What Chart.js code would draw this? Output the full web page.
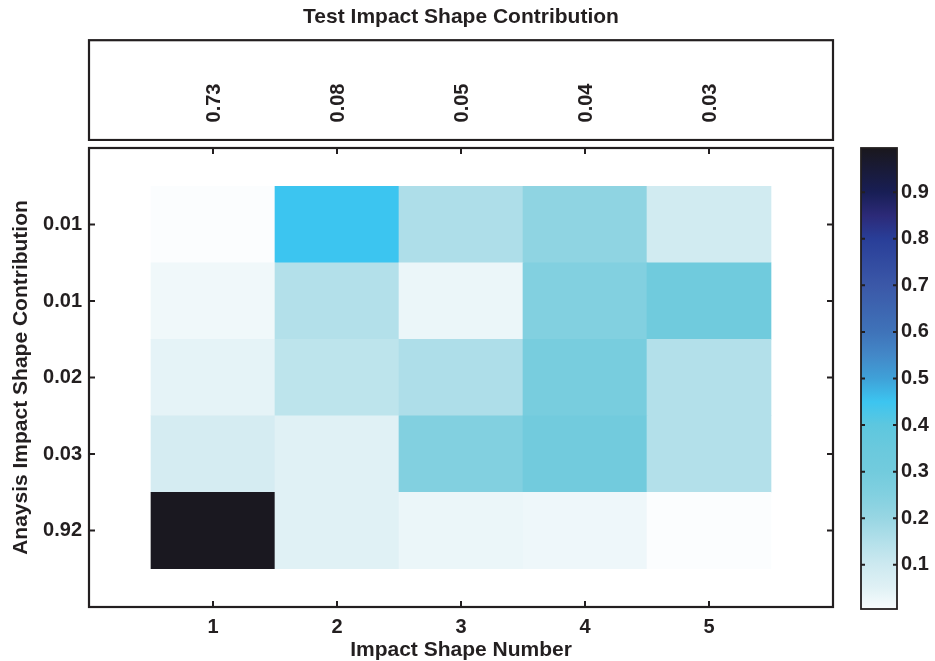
<!DOCTYPE html>
<html>
<head>
<meta charset="utf-8">
<script src="https://cdn.jsdelivr.net/npm/chart.js@4.4.1/dist/chart.umd.min.js"></script>
<style>
    body { margin: 0; background: #fff; }
    #wrap { position: relative; width: 935px; height: 661px; }
    canvas { position: absolute; }
</style>
</head>
<body>
<div id="wrap">
    <canvas id="topChart" width="935" height="141" style="left:0;top:0;width:935px;height:141px"></canvas>
    <canvas id="mainChart" width="935" height="661" style="left:0;top:0;width:935px;height:661px"></canvas>
    <canvas id="barChart" width="84" height="481" style="left:851px;top:138px;width:84px;height:481px"></canvas>
</div>
<script>

// data
const shapeNumbers = [1, 2, 3, 4, 5];
const analysisLabels = ["0.01", "0.01", "0.02", "0.03", "0.92"];
const testLabels = ["0.73", "0.08", "0.05", "0.04", "0.03"];

const row1 = [0.00, 0.45, 0.16, 0.22, 0.09];
const row2 = [0.02, 0.15, 0.03, 0.25, 0.31];
const row3 = [0.04, 0.13, 0.16, 0.28, 0.15];
const row4 = [0.08, 0.05, 0.25, 0.30, 0.15];
const row5 = [0.99, 0.05, 0.03, 0.025, 0.00];
const rows = [row1, row2, row3, row4, row5];

const colorbarTicks = [0.1, 0.2, 0.3, 0.4, 0.5, 0.6, 0.7, 0.8, 0.9];
const colorbarMin = 0.005;
const colorbarMax = 0.995;

// colormap
const cmapStops = [
    [0.00, "#fbfdfe"],
    [0.05, "#e0f1f5"],
    [0.10, "#cde9f0"],
    [0.15, "#b3e0ea"],
    [0.20, "#98d6e3"],
    [0.25, "#82d0e0"],
    [0.30, "#72cbdd"],
    [0.35, "#6ac9dd"],
    [0.40, "#5dc7df"],
    [0.45, "#3cc5f0"],
    [0.50, "#3fa1d8"],
    [0.55, "#4388c8"],
    [0.60, "#3f73b9"],
    [0.70, "#3b58a8"],
    [0.80, "#293e98"],
    [0.85, "#2c2a78"],
    [0.90, "#181e55"],
    [1.00, "#1a171a"]
];

function hexToRgb(h) {
    return [parseInt(h.slice(1, 3), 16), parseInt(h.slice(3, 5), 16), parseInt(h.slice(5, 7), 16)];
}

function colormap(v) {
    for (let i = 1; i < cmapStops.length; i++) {
        const [p0, c0] = cmapStops[i - 1];
        const [p1, c1] = cmapStops[i];
        if (v <= p1 || i === cmapStops.length - 1) {
            const t = Math.max(0, Math.min(1, (v - p0) / (p1 - p0)));
            const a = hexToRgb(c0), b = hexToRgb(c1);
            const rgb = a.map((x, k) => Math.round(x + (b[k] - x) * t));
            return "rgb(" + rgb.join(",") + ")";
        }
    }
}

const FONT = "'Liberation Sans', Arial, Helvetica, sans-serif";
const INK = "#231f20";

Chart.defaults.font.family = FONT;
Chart.defaults.font.weight = "bold";
Chart.defaults.color = INK;
Chart.defaults.animation = false;
Chart.defaults.plugins.legend.display = false;
Chart.defaults.plugins.tooltip.enabled = false;

/*
 * Box + inward tick marks
 */
function boxPlugin(tickLen, lineWidth, sides) {
    return {
        id: "box",
        afterDraw(chart) {
            const { ctx, chartArea: a } = chart;
            ctx.save();
            ctx.strokeStyle = INK;
            ctx.lineWidth = lineWidth;
            ctx.strokeRect(a.left, a.top, a.right - a.left, a.bottom - a.top);
            ctx.lineWidth = 2;
            ctx.beginPath();
            if (sides.x) {
                chart.scales.x.ticks.forEach(t => {
                    const px = chart.scales.x.getPixelForValue(t.value);
                    ctx.moveTo(px, a.bottom); ctx.lineTo(px, a.bottom - tickLen);
                    ctx.moveTo(px, a.top); ctx.lineTo(px, a.top + tickLen);
                });
            }
            if (sides.y) {
                chart.scales.y.ticks.forEach(t => {
                    const py = chart.scales.y.getPixelForValue(t.value);
                    ctx.moveTo(a.left, py); ctx.lineTo(a.left + tickLen, py);
                    ctx.moveTo(a.right, py); ctx.lineTo(a.right - tickLen, py);
                });
            }
            ctx.stroke();
            ctx.restore();
        }
    };
}

/*
 * Heatmap
 */
const cells = [];
const cellColors = [];
rows.forEach((row, r) => {
    row.forEach((v, c) => {
        cells.push({ x: shapeNumbers[c], y: [r + 0.5, r + 1.5] });
        cellColors.push(colormap(v));
    });
});

new Chart(document.getElementById("mainChart"), {
    type: "bar",
    data: {
        datasets: [
            {
                data: cells,
                backgroundColor: cellColors,
                borderWidth: 0,
                grouped: false,
                barPercentage: 1,
                categoryPercentage: 1
            }
        ]
    },
    options: {
        responsive: false,
        layout: { padding: { left: 0, right: 102, top: 148, bottom: 0 } },
        scales: {
            x: {
                type: "linear",
                min: 0,
                max: 6,
                offset: false,
                afterBuildTicks: s => { s.ticks = shapeNumbers.map(v => ({ value: v })); },
                afterFit: s => { s.height = 54; },
                grid: { display: false, drawTicks: false, offset: false },
                border: { display: false },
                ticks: { font: { size: 20 }, padding: 8, maxRotation: 0 },
                title: {
                    display: true,
                    text: "Impact Shape Number",
                    font: { size: 21, lineHeight: 1 },
                    padding: { top: 0, bottom: 0 }
                }
            },
            y: {
                type: "linear",
                min: 0,
                max: 6,
                reverse: true,
                afterBuildTicks: s => { s.ticks = shapeNumbers.map(v => ({ value: v })); },
                afterFit: s => { s.width = 89; },
                grid: { display: false, drawTicks: false },
                border: { display: false },
                ticks: {
                    font: { size: 20 },
                    padding: 7,
                    callback: v => analysisLabels[v - 1]
                },
                title: {
                    display: true,
                    text: "Anaysis Impact Shape Contribution",
                    font: { size: 21 },
                    padding: { top: 9, bottom: 0 }
                }
            }
        }
    },
    plugins: [boxPlugin(6, 2.2, { x: true, y: true })]
});

/*
 * Top strip with test contributions
 */
const topLabelPlugin = {
    id: "topLabels",
    afterDraw(chart) {
        const { ctx } = chart;
        ctx.save();
        ctx.fillStyle = INK;
        ctx.font = "bold 20px " + FONT;
        ctx.textAlign = "center";
        ctx.textBaseline = "middle";
        testLabels.forEach((label, i) => {
            const px = chart.scales.x.getPixelForValue(shapeNumbers[i]);
            ctx.save();
            ctx.translate(px + 1, 103);
            ctx.rotate(-Math.PI / 2);
            ctx.fillText(label, 0, 0);
            ctx.restore();
        });
        ctx.restore();
    }
};

new Chart(document.getElementById("topChart"), {
    type: "bar",
    data: { datasets: [] },
    options: {
        responsive: false,
        layout: { padding: { left: 89, right: 102, top: 0, bottom: 1 } },
        scales: {
            x: { type: "linear", min: 0, max: 6, offset: false, display: false },
            y: { type: "linear", min: 0, max: 1, display: false }
        },
        plugins: {
            title: {
                display: true,
                text: "Test Impact Shape Contribution",
                font: { size: 21 },
                color: INK,
                padding: { top: 5, bottom: 10 }
            }
        }
    },
    plugins: [topLabelPlugin, boxPlugin(0, 2.2, {})]
});

/*
 * Colorbar
 */
new Chart(document.getElementById("barChart"), {
    type: "bar",
    data: {
        labels: ["cbar"],
        datasets: [
            {
                data: [[colorbarMin, colorbarMax]],
                borderWidth: 0,
                barPercentage: 1,
                categoryPercentage: 1,
                backgroundColor: c => {
                    const { ctx, chartArea, scales } = c.chart;
                    if (!chartArea) return null;
                    const y0 = scales.y.getPixelForValue(0);
                    const y1 = scales.y.getPixelForValue(1);
                    const g = ctx.createLinearGradient(0, y0, 0, y1);
                    cmapStops.forEach(([p, col]) => g.addColorStop(p, col));
                    return g;
                }
            }
        ]
    },
    options: {
        responsive: false,
        layout: { padding: { left: 10, right: 0, top: 10, bottom: 10 } },
        scales: {
            x: { display: false },
            y: {
                type: "linear",
                position: "right",
                min: colorbarMin,
                max: colorbarMax,
                afterBuildTicks: s => { s.ticks = colorbarTicks.map(v => ({ value: v })); },
                afterFit: s => { s.width = 38; s.paddingTop = 0; s.paddingBottom = 0; },
                grid: { display: false, drawTicks: false },
                border: { display: false },
                ticks: { font: { size: 20 }, padding: 4 }
            }
        }
    },
    plugins: [boxPlugin(4, 1.8, { y: true })]
});

</script>
</body>
</html>
